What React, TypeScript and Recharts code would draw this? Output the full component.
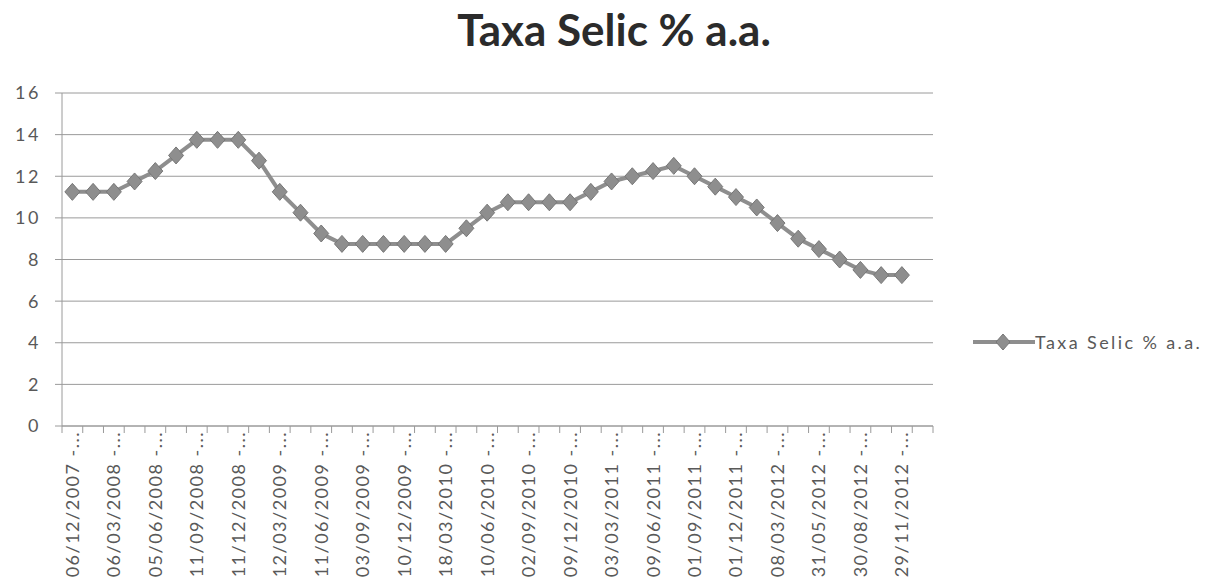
import { LineChart, Line, XAxis, YAxis, CartesianGrid, Legend } from 'recharts';

// Copom meeting dates (day after the decision) and the Selic target, % a.a.
const DATES = [
  '06/12/2007', '24/01/2008', '06/03/2008', '17/04/2008', '05/06/2008', '24/07/2008',
  '11/09/2008', '30/10/2008', '11/12/2008', '22/01/2009', '12/03/2009', '30/04/2009',
  '11/06/2009', '23/07/2009', '03/09/2009', '22/10/2009', '10/12/2009', '28/01/2010',
  '18/03/2010', '29/04/2010', '10/06/2010', '22/07/2010', '02/09/2010', '21/10/2010',
  '09/12/2010', '20/01/2011', '03/03/2011', '21/04/2011', '09/06/2011', '21/07/2011',
  '01/09/2011', '20/10/2011', '01/12/2011', '19/01/2012', '08/03/2012', '19/04/2012',
  '31/05/2012', '12/07/2012', '30/08/2012', '11/10/2012', '29/11/2012', '17/01/2013',
];

const SELIC: (number | null)[] = [
  11.25, 11.25, 11.25, 11.75, 12.25, 13.0,
  13.75, 13.75, 13.75, 12.75, 11.25, 10.25,
  9.25, 8.75, 8.75, 8.75, 8.75, 8.75,
  8.75, 9.5, 10.25, 10.75, 10.75, 10.75,
  10.75, 11.25, 11.75, 12.0, 12.25, 12.5,
  12.0, 11.5, 11.0, 10.5, 9.75, 9.0,
  8.5, 8.0, 7.5, 7.25, 7.25, null,
];

const Y_TICKS = [0, 2, 4, 6, 8, 10, 12, 14, 16];
const SERIES_NAME = 'Taxa Selic % a.a.';

const WIDTH = 1208;
const HEIGHT = 584;
const PLOT_LEFT = 62;
const PLOT_RIGHT = 933;
const PLOT_TOP = 93;
const PLOT_BOTTOM = 426;
const LEGEND_LEFT = 973;
const BAND = (PLOT_RIGHT - PLOT_LEFT) / DATES.length;

const FONT = 'Lato, "Open Sans", sans-serif';
const TEXT = '#595959';
const GRID = '#9a9a9a';
const SERIES = '#8e8e8e';
const SERIES_EDGE = '#777777';

const chartData = DATES.map((date, i) => ({ date, selic: SELIC[i] }));

function diamondPoints(cx: number, cy: number, w: number, h: number) {
  return `${cx},${cy - h} ${cx + w},${cy} ${cx},${cy + h} ${cx - w},${cy}`;
}

function Diamond(props: any) {
  const { cx, cy, value } = props;
  if (value == null || cx == null || cy == null) return <g />;
  return (
    <polygon
      points={diamondPoints(cx, cy, 7.5, 8.5)}
      fill={SERIES}
      stroke={SERIES_EDGE}
      strokeWidth={1}
    />
  );
}

// Excel-style axis: tick marks between categories, a label on every other one
function DateTick(props: any) {
  const { x, y, payload, index } = props;
  const ty = y + 5;
  return (
    <g>
      <line x1={x - BAND / 2} x2={x - BAND / 2} y1={y} y2={y + 7} stroke={GRID} />
      {index === DATES.length - 1 && (
        <line x1={x + BAND / 2} x2={x + BAND / 2} y1={y} y2={y + 7} stroke={GRID} />
      )}
      {index % 2 === 0 && (
        <text
          x={x}
          y={ty}
          dy="0.36em"
          transform={`rotate(-90, ${x}, ${ty})`}
          textAnchor="end"
          fill={TEXT}
          fontSize={18}
          fontFamily={FONT}
          letterSpacing={1.5}
        >
          {`${payload.value} -...`}
        </text>
      )}
    </g>
  );
}

function LegendEntry(props: any) {
  const label = props.payload?.[0]?.value ?? SERIES_NAME;
  return (
    <div
      style={{
        display: 'flex',
        alignItems: 'center',
        fontFamily: FONT,
        fontSize: 18,
        color: TEXT,
        letterSpacing: 2.4,
        whiteSpace: 'nowrap',
      }}
    >
      <svg width={62} height={20} style={{ display: 'block' }}>
        <line x1={0} x2={62} y1={10} y2={10} stroke={SERIES} strokeWidth={4} />
        <polygon points={diamondPoints(30, 10, 7, 8)} fill={SERIES} stroke={SERIES_EDGE} />
      </svg>
      <span>{label}</span>
    </div>
  );
}

export default function App() {
  return (
    <div
      style={{
        position: 'absolute',
        left: 0,
        top: 0,
        width: WIDTH,
        height: HEIGHT,
        background: '#fff',
        overflow: 'hidden',
      }}
    >
      <div
        style={{
          position: 'absolute',
          left: 314,
          top: 3,
          width: 600,
          textAlign: 'center',
          fontFamily: FONT,
          fontWeight: 700,
          fontSize: 44,
          lineHeight: '53px',
          color: '#2b2b2b',
        }}
      >
        {SERIES_NAME}
      </div>
      <LineChart
        width={WIDTH}
        height={HEIGHT}
        data={chartData}
        margin={{
          top: PLOT_TOP,
          right: WIDTH - PLOT_RIGHT - (WIDTH - LEGEND_LEFT),
          bottom: 0,
          left: 0,
        }}
      >
        <CartesianGrid vertical={false} stroke={GRID} />
        <XAxis
          dataKey="date"
          scale="band"
          interval={0}
          height={HEIGHT - PLOT_BOTTOM}
          tickLine={false}
          tickSize={0}
          tickMargin={0}
          axisLine={{ stroke: GRID }}
          tick={(p: any) => <DateTick {...p} />}
        />
        <YAxis
          width={PLOT_LEFT}
          domain={[0, 16]}
          ticks={Y_TICKS}
          interval={0}
          tickSize={7}
          tickMargin={14}
          axisLine={{ stroke: GRID }}
          tickLine={{ stroke: GRID }}
          tick={{ fill: TEXT, fontSize: 18, fontFamily: FONT, letterSpacing: 2.5 }}
        />
        <Legend
          layout="vertical"
          align="right"
          verticalAlign="middle"
          content={(p: any) => <LegendEntry {...p} />}
          wrapperStyle={{ left: LEGEND_LEFT, top: 331, width: WIDTH - LEGEND_LEFT }}
        />
        <Line
          type="linear"
          dataKey="selic"
          name={SERIES_NAME}
          stroke={SERIES}
          strokeWidth={4}
          dot={(p: any) => <Diamond key={`d-${p.index}`} {...p} />}
          activeDot={false}
          isAnimationActive={false}
        />
      </LineChart>
    </div>
  );
}
